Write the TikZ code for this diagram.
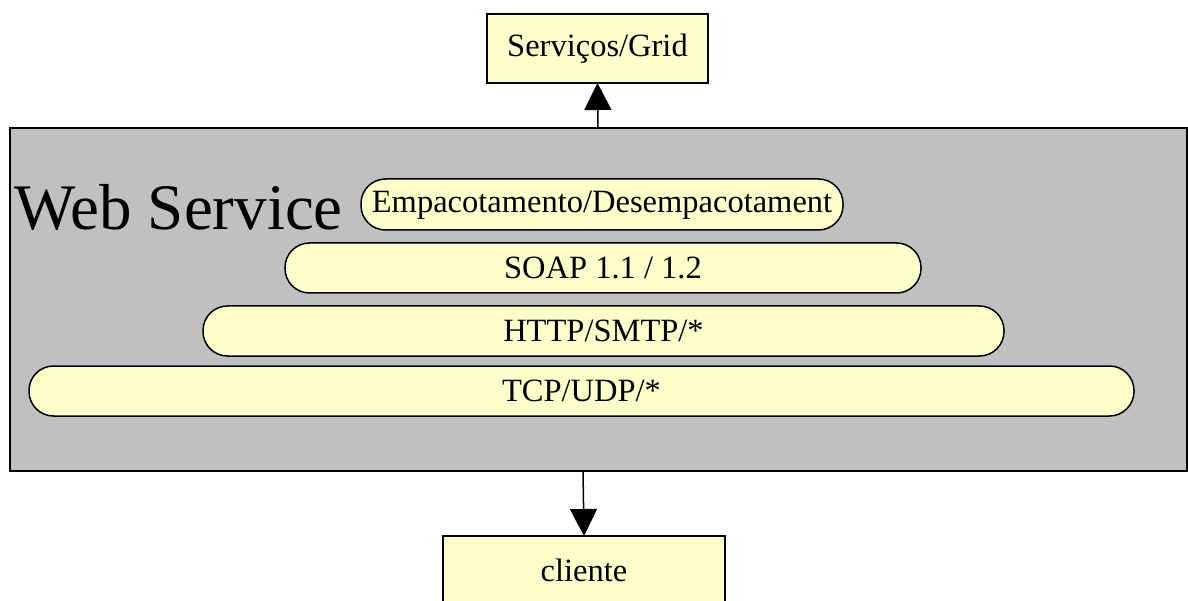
\documentclass[tikz,border=0pt]{standalone}
\usepackage{fontspec}
\setmainfont{Liberation Serif}
\usetikzlibrary{arrows.meta}
\definecolor{paleyellow}{HTML}{FFFFCC}
\definecolor{boxgray}{HTML}{C0C0C0}
\tikzset{
  pill/.style={draw=black, line width=1.5pt, fill=paleyellow, rounded corners=24.5pt},
  rectbox/.style={draw=black, line width=1.5pt, fill=paleyellow},
  lbl/.style={font=\fontsize{32.5}{37}\selectfont, inner sep=0pt},
  conn/.style={line width=1.5pt, -{Triangle[width=27pt,length=27pt]}}
}
\begin{document}
\begin{tikzpicture}[x=1pt,y=-1pt]
\useasboundingbox (0,0) rectangle (1188,601);
% main gray box
\draw[line width=1.5pt, fill=boxgray] (10,128) rectangle (1187,471);
\node[lbl, font=\fontsize{65}{72}\selectfont, anchor=base west] (ws) at (14,230) {Web Service};
% top box
\draw[rectbox] (487,14) rectangle (708,83);
\node[lbl] (serv) at (597.5,48.5) {Serviços/Grid};
\coordinate (servs) at (597.5,83);
% bottom box
\draw[rectbox] (443,536) rectangle (725,610);
\node[lbl] (cli) at (584,570) {cliente};
\coordinate (clin) at (584,536);
% pills
\draw[pill] (361,179) rectangle (843,230);
\node[lbl] (emp) at (602,205) {Empacotamento/Desempacotament};
\draw[pill] (285,243) rectangle (921,293);
\node[lbl] (soap) at (603,268) {SOAP 1.1 / 1.2};
\draw[pill] (203,306) rectangle (1004,356);
\node[lbl] (http) at (603.5,331) {HTTP/SMTP/*};
\draw[pill] (29,366) rectangle (1134,416);
\node[lbl] (tcp) at (581.5,391) {TCP/UDP/*};
% connectors
\coordinate (wstop) at (598,128);
\coordinate (wsbot) at (583,471);
\draw[conn] (wstop) -- (servs);
\draw[conn] (wsbot) -- (clin);
\end{tikzpicture}
\end{document}
